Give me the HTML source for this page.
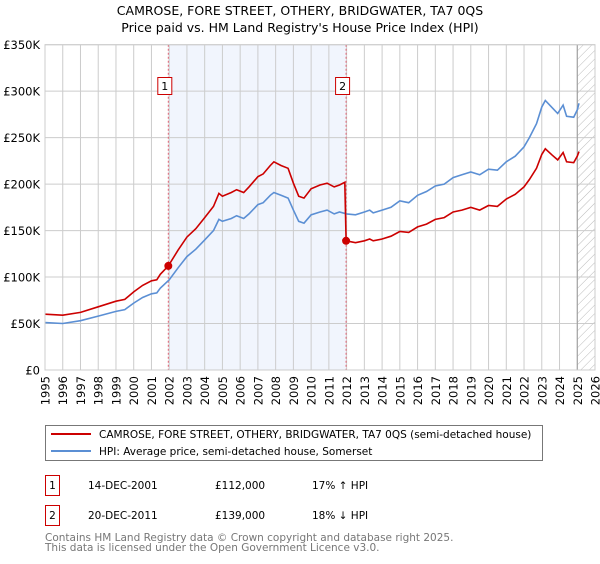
<!DOCTYPE html>
<html><head><meta charset="utf-8"><style>
body{margin:0;background:#fff;font-family:"DejaVu Sans","Liberation Sans",sans-serif;}
svg text{font-family:"DejaVu Sans","Liberation Sans",sans-serif;}
</style></head><body>
<svg id="chart" width="600" height="560" viewBox="0 0 600 560" xmlns="http://www.w3.org/2000/svg">
<defs><pattern id="hatch" patternUnits="userSpaceOnUse" width="6" height="6" patternTransform="rotate(45)"><line x1="0" y1="0" x2="0" y2="6" stroke="#bbb" stroke-width="1"/></pattern></defs>
<text x="300" y="15" text-anchor="middle" font-size="12.5">CAMROSE, FORE STREET, OTHERY, BRIDGWATER, TA7 0QS</text>
<text x="300" y="32" text-anchor="middle" font-size="12.5">Price paid vs. HM Land Registry's House Price Index (HPI)</text>
<g id="plot"></g>
<g>
<rect x="45.5" y="425.5" width="497" height="35" fill="#fff" stroke="#777"/>
<line x1="51" y1="434" x2="91" y2="434" stroke="#cc0000" stroke-width="2"/>
<text x="99" y="438" font-size="10.5">CAMROSE, FORE STREET, OTHERY, BRIDGWATER, TA7 0QS (semi-detached house)</text>
<line x1="51" y1="451" x2="91" y2="451" stroke="#5b8fd4" stroke-width="2"/>
<text x="99" y="455" font-size="10.5">HPI: Average price, semi-detached house, Somerset</text>
</g>
<g font-size="10.5">
<rect x="45.5" y="475.5" width="14" height="20" fill="#fff" stroke="#cc0000"/><text x="52.5" y="489" text-anchor="middle">1</text>
<text x="88" y="489">14-DEC-2001</text><text x="215" y="489">£112,000</text><text x="312" y="489">17% ↑ HPI</text>
<rect x="45.5" y="505.5" width="14" height="20" fill="#fff" stroke="#cc0000"/><text x="52.5" y="519" text-anchor="middle">2</text>
<text x="88" y="519">20-DEC-2011</text><text x="215" y="519">£139,000</text><text x="312" y="519">18% ↓ HPI</text>
</g>
<text x="45" y="541" font-size="10.5" fill="#777">Contains HM Land Registry data © Crown copyright and database right 2025.</text>
<text x="45" y="551" font-size="10.5" fill="#777">This data is licensed under the Open Government Licence v3.0.</text>
</svg>
<script>
const hpiYears=[1995,1996,1997,1998,1999,1999.5,2000,2000.5,2001,2001.3,2001.5,2002,2002.5,2003,2003.5,2004,2004.5,2004.8,2005,2005.5,2005.8,2006.2,2006.5,2007,2007.3,2007.7,2007.9,2008.3,2008.7,2009,2009.3,2009.6,2010,2010.5,2010.9,2011.3,2011.6,2012,2012.5,2013,2013.3,2013.5,2014,2014.5,2015,2015.5,2016,2016.5,2017,2017.5,2018,2018.5,2019,2019.5,2020,2020.5,2021,2021.5,2022,2022.3,2022.7,2023,2023.2,2023.6,2023.9,2024.2,2024.4,2024.8,2025,2025.1];
const hpiValues=[51,50,53,58,63,65,72,78,82,83,88,97,110,122,130,140,150,162,160,163,166,163,168,178,180,188,191,188,185,172,160,158,167,170,172,168,170,168,167,170,172,169,172,175,182,180,188,192,198,200,207,210,213,210,216,215,224,230,240,250,265,283,290,282,276,285,273,272,280,287];
const redYears=[1995,1996,1997,1998,1999,1999.5,2000,2000.5,2001,2001.3,2001.5,2001.95,2002.5,2003,2003.5,2004,2004.5,2004.8,2005,2005.5,2005.8,2006.2,2006.5,2007,2007.3,2007.7,2007.9,2008.3,2008.7,2009,2009.3,2009.6,2010,2010.5,2010.9,2011.3,2011.6,2011.9,2011.97,2012.5,2013,2013.3,2013.5,2014,2014.5,2015,2015.5,2016,2016.5,2017,2017.5,2018,2018.5,2019,2019.5,2020,2020.5,2021,2021.5,2022,2022.3,2022.7,2023,2023.2,2023.6,2023.9,2024.2,2024.4,2024.8,2025,2025.1];
const redValues=[60,59,62,68,74,76,84,91,96,97,103,112,129,143,152,164,176,190,187,191,194,191,197,208,211,220,224,220,217,201,187,185,195,199,201,197,199,202,139,137,139,141,139,141,144,149,148,154,157,162,164,170,172,175,172,177,176,184,189,197,205,217,232,238,231,226,234,224,223,230,235];
const sales=[{n:"1",year:2001.95,value:112},{n:"2",year:2011.97,value:139}];
const yTicks=[0,50,100,150,200,250,300,350];
const yTickLabels=["£0","£50K","£100K","£150K","£200K","£250K","£300K","£350K"];
const xTicks=[1995,1996,1997,1998,1999,2000,2001,2002,2003,2004,2005,2006,2007,2008,2009,2010,2011,2012,2013,2014,2015,2016,2017,2018,2019,2020,2021,2022,2023,2024,2025,2026];

const L=45,R=595,T=44.7,B=370;
const x=y=>L+(y-1995)*(R-L)/31;
const yS=v=>B-v*(B-T)/350;
const NS="http://www.w3.org/2000/svg";
const g=document.getElementById('plot');
function mk(tag,attrs,parent){const e=document.createElementNS(NS,tag);for(const k in attrs)e.setAttribute(k,attrs[k]);(parent||g).appendChild(e);return e;}

const shade=mk('rect',{x:x(sales[0].year),y:T,width:x(sales[1].year)-x(sales[0].year),height:B-T,fill:'#eef3fc',opacity:0.8});


const hatch=mk('rect',{x:x(2025.0),y:T,width:R-x(2025.0),height:B-T,fill:'url(#hatch)'});



xTicks.forEach(t=>{
  const ln=mk('line',{x1:x(t),x2:x(t),y1:T,y2:B,stroke:'#cccccc','stroke-width':1});
  
  
  const tx=mk('text',{x:0,y:0,'font-size':11.5,'text-anchor':'end',transform:`translate(${x(t)+4.5},376) rotate(-90)`});
  
  
  tx.textContent=t;
});
yTicks.forEach((t,i)=>{
  const ln=mk('line',{x1:L,x2:R,y1:yS(t),y2:yS(t),stroke:'#cccccc','stroke-width':1});
  
  
  const tx=mk('text',{x:40,y:yS(t)+4.5,'font-size':11.5,'text-anchor':'end'});
  
  
  tx.textContent=yTickLabels[i];
});
const vl=mk('line',{x1:x(2025.0),x2:x(2025.0),y1:T,y2:B,stroke:'#999','stroke-width':1});



sales.forEach(s=>{
  const d=mk('line',{x1:x(s.year),x2:x(s.year),y1:T,y2:B,stroke:'#e06070','stroke-width':1,'stroke-dasharray':'2,2'});
  
  
});

function path(xs,vs){return xs.map((a,i)=>(i?'L':'M')+x(a).toFixed(1)+','+yS(vs[i]).toFixed(1)).join(' ');}
const hp=mk('path',{d:path(hpiYears,hpiValues),fill:'none',stroke:'#5b8fd4','stroke-width':1.6});


const rp=mk('path',{d:path(redYears,redValues),fill:'none',stroke:'#cc0000','stroke-width':1.6});



sales.forEach(s=>{
  const c=mk('circle',{cx:x(s.year),cy:yS(s.value),r:4,fill:'#cc0000'});
  
  
  const bx=x(s.year)-10;
  const r=mk('rect',{x:bx-0.5,y:77.5,width:14,height:17,fill:'#fff',stroke:'#cc0000'});
  
  
  const t=mk('text',{x:bx+6.5,y:90,'font-size':11,'text-anchor':'middle'});
  
  
  t.textContent=s.n;
});
const fr=mk('rect',{x:L,y:T,width:R-L,height:B-T,fill:'none',stroke:'#cccccc'});


</script>
</body></html>
